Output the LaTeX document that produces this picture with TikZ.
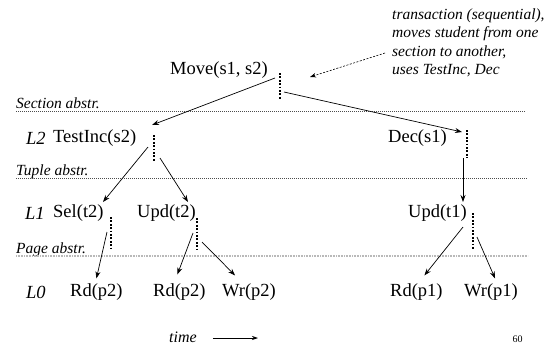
\documentclass[tikz,border=0pt]{standalone}
\usepackage{fontspec}
\setmainfont{Liberation Serif}
\usetikzlibrary{arrows.meta,calc}

\begin{document}
\begin{tikzpicture}[x=1pt, y=-1pt,
    op/.style={font=\fontsize{18.5}{22}\selectfont, inner sep=0pt, anchor=west},
    lvl/.style={font=\fontsize{18.5}{22}\selectfont\itshape, inner sep=0pt, anchor=west},
    abstrlabel/.style={font=\fontsize{15.5}{18}\selectfont\itshape, inner sep=0pt, anchor=base west},
    abstr/.style={draw=black!70, line width=0.5pt, dash pattern=on 1pt off 1pt},
    pageabstr/.style={draw=gray!55, line width=1.3pt, dash pattern=on 1pt off 0.6pt},
    tbar/.style={line width=2.4pt, dash pattern=on 1.8pt off 1.6pt},
    call/.style={line width=0.7pt, -{Stealth[length=7pt, width=5pt]}},
    note/.style={line width=0.6pt, dash pattern=on 2pt off 1.5pt, -{Stealth[length=6pt, width=4.5pt]}}
]
\useasboundingbox (0,0) rectangle (552,346);

% abstraction boundaries
\node[abstrlabel] (secl) at (16,108) {Section abstr.};
\node[abstrlabel] (tupl) at (16,175) {Tuple abstr.};
\node[abstrlabel] (pagl) at (16,253) {Page abstr.};
\coordinate (secend) at (525,111);
\coordinate (tupend) at (527,178);
\coordinate (pagend) at (528,256);
\draw[abstr] (secl.base west) ++(0,3) -- (secend);
\draw[abstr] (tupl.base west) ++(0,3) -- (tupend);
\draw[pageabstr] (pagl.base west) ++(0,3) -- (pagend);

% level names
\node[lvl] (l2) at (26,138) {L2};
\node[lvl] (l1) at (25,213) {L1};
\node[lvl] (l0) at (26,292) {L0};

% operations
\node[op] (move) at (170,70) {Move(s1, s2)};
\node[op] (testinc) at (53,138) {TestInc(s2)};
\node[op] (dec) at (388,138) {Dec(s1)};
\node[op] (selt2) at (53,213) {Sel(t2)};
\node[op] (updt2) at (137,213) {Upd(t2)};
\node[op] (updt1) at (408,213) {Upd(t1)};
\node[op] (rdA) at (70,292) {Rd(p2)};
\node[op] (rdB) at (153,292) {Rd(p2)};
\node[op] (wrB) at (222,292) {Wr(p2)};
\node[op] (rdC) at (390,292) {Rd(p1)};
\node[op] (wrC) at (464,292) {Wr(p1)};

% execution bars
\coordinate (movetop) at (280,73);    \coordinate (movebot) at (280,100);
\coordinate (testinctop) at (154,135); \coordinate (testincbot) at (154,162);
\coordinate (dectop) at (467,130);    \coordinate (decbot) at (467,158);
\coordinate (seltop) at (111,217);    \coordinate (selbot) at (111,250);
\coordinate (updt2top) at (197,218);  \coordinate (updt2bot) at (197,250);
\coordinate (updt1top) at (473,213);  \coordinate (updt1bot) at (473,250);
\foreach \b in {move,testinc,dec,sel,updt2,updt1}
    \draw[tbar] (\b top) -- (\b bot);

% calls
\draw[call] ($(movetop)+(-5,5)$) -- ($(testinctop)+(-2,-10)$);
\draw[call] ($(movetop)+(4,19)$) -- ($(dectop)+(-5,2)$);
\draw[call] ($(testinctop)+(-6,12)$) -- ($(seltop)+(-8,-15)$);
\draw[call] ($(testinctop)+(6,23)$) -- ($(updt2top)+(-9,-16)$);
\draw[call] ($(decbot)+(-4,0)$) -- ($(updt1top)+(-10,-11)$);
\draw[call] ($(seltop)+(-4,15)$) -- ($(rdA.north)+(0,-5)$);
\draw[call] ($(updt2top)+(-4,15)$) -- ($(rdB.north)+(-2,-9)$);
\draw[call] ($(updt2top)+(5,24)$) -- ($(wrB.north)+(-14,-8)$);
\draw[call] ($(updt1top)+(-10,14)$) -- ($(rdC.north)+(8,-8)$);
\draw[call] ($(updt1top)+(4,24)$) -- ($(wrC.north)+(4,-5)$);

% annotation
\node[font=\fontsize{15.5}{18.5}\selectfont\itshape, align=left, inner sep=0pt, anchor=north west]
    (note) at (392,8.5) {transaction (sequential),\\moves student from one\\section to another,\\uses TestInc, Dec};
\coordinate (notetail) at (385,53);
\draw[note] (notetail) -- ($(movetop)+(30,4)$);

% time axis
\node[font=\fontsize{16}{19}\selectfont\itshape, inner sep=0pt, anchor=west] (time) at (169,337) {time};
\coordinate (timeend) at (258,338);
\draw[line width=0.7pt, -{Stealth[length=6pt, width=4pt]}] ($(time.east)+(16,1)$) -- (timeend);
\node[font=\fontsize{10}{12}\selectfont, inner sep=0pt] (page) at (517.5,339) {60};
\end{tikzpicture}
\end{document}
